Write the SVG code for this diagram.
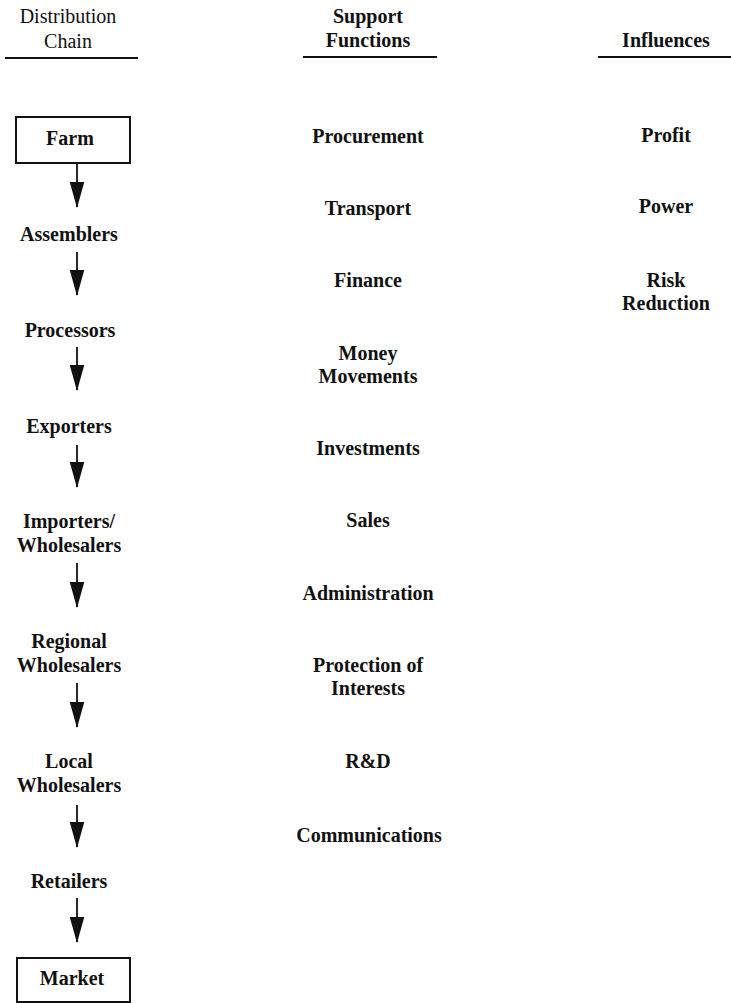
<svg xmlns="http://www.w3.org/2000/svg" width="731" height="1003" viewBox="0 0 731 1003">
<defs>
<style>
text{font-family:"Liberation Serif","Times New Roman",serif;font-size:20px;fill:#111;text-anchor:middle}
.hd{font-weight:normal}
.it{font-weight:bold}
.rule{stroke:#111;stroke-width:2}
.box{fill:none;stroke:#111;stroke-width:2}
.arr{stroke:#111;stroke-width:1.8;fill:none;marker-end:url(#ah)}
</style>
<marker id="ah" markerUnits="userSpaceOnUse" markerWidth="26" markerHeight="16" refX="24" refY="7" orient="auto" viewBox="0 0 25 14">
<path d="M0,0 L25,7 L0,14 Z" fill="#111"/>
</marker>
</defs>
<rect width="731" height="1003" fill="#fff"/>
<g id="headers">
<text class="hd" x="68" y="23">Distribution</text>
<text class="hd" x="68" y="48">Chain</text>
<line class="rule" x1="5" y1="58" x2="138" y2="58"/>
<text class="it" x="368" y="23">Support</text>
<text class="it" x="368" y="47">Functions</text>
<line class="rule" x1="303" y1="57" x2="437" y2="57"/>
<text class="it" x="666" y="47">Influences</text>
<line class="rule" x1="598" y1="57" x2="731" y2="57"/>
</g>
<g id="farm"><rect class="box" x="16" y="117" width="114" height="46"/><text class="it" x="70" y="145">Farm</text></g>
<g id="assemblers"><text class="it" x="69" y="241">Assemblers</text></g>
<g id="processors"><text class="it" x="70" y="337">Processors</text></g>
<g id="exporters"><text class="it" x="69" y="433">Exporters</text></g>
<g id="importers"><text class="it" x="69" y="528">Importers/</text><text class="it" x="69" y="552">Wholesalers</text></g>
<g id="regional"><text class="it" x="69" y="648">Regional</text><text class="it" x="69" y="672">Wholesalers</text></g>
<g id="local"><text class="it" x="69" y="768">Local</text><text class="it" x="69" y="792">Wholesalers</text></g>
<g id="retailers"><text class="it" x="69" y="888">Retailers</text></g>
<g id="market"><rect class="box" x="17" y="958" width="113" height="44"/><text class="it" x="72" y="985">Market</text></g>
<g id="connectors">
<line class="arr" x1="77" y1="163" x2="77" y2="207"/>
<line class="arr" x1="77" y1="252" x2="77" y2="295"/>
<line class="arr" x1="77" y1="347" x2="77" y2="390"/>
<line class="arr" x1="77" y1="445" x2="77" y2="487"/>
<line class="arr" x1="77" y1="563" x2="77" y2="607"/>
<line class="arr" x1="77" y1="683" x2="77" y2="727"/>
<line class="arr" x1="77" y1="805" x2="77" y2="847"/>
<line class="arr" x1="77" y1="898" x2="77" y2="942"/>
</g>
<g id="support">
<text class="it" x="368" y="143">Procurement</text>
<text class="it" x="368" y="215">Transport</text>
<text class="it" x="368" y="287">Finance</text>
<text class="it" x="368" y="360">Money</text>
<text class="it" x="368" y="383">Movements</text>
<text class="it" x="368" y="455">Investments</text>
<text class="it" x="368" y="527">Sales</text>
<text class="it" x="368" y="600">Administration</text>
<text class="it" x="368" y="672">Protection of</text>
<text class="it" x="368" y="695">Interests</text>
<text class="it" x="368" y="768">R&amp;D</text>
<text class="it" x="369" y="842">Communications</text>
</g>
<g id="influences">
<text class="it" x="666" y="142">Profit</text>
<text class="it" x="666" y="213">Power</text>
<text class="it" x="666" y="287">Risk</text>
<text class="it" x="666" y="310">Reduction</text>
</g>
</svg>
